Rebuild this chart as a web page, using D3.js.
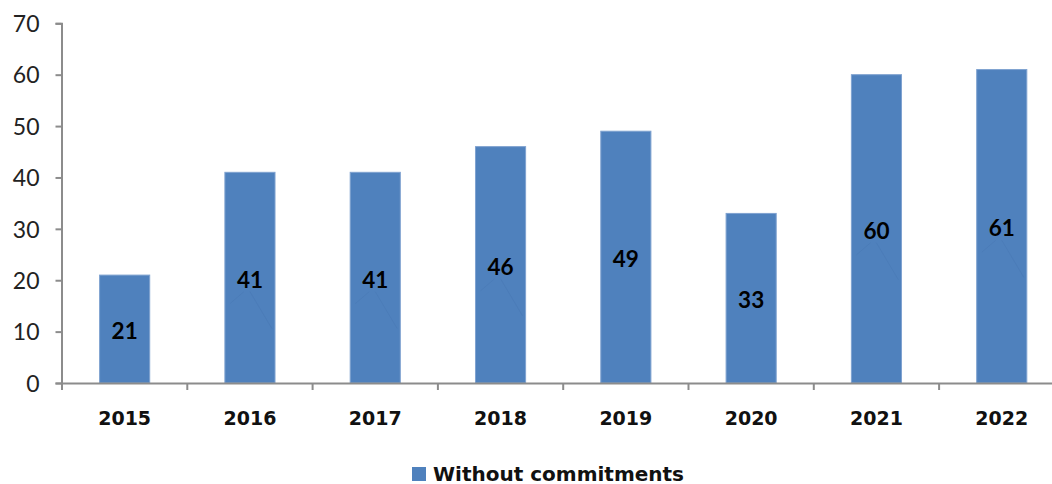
<!DOCTYPE html>
<html>
<head>
<meta charset="utf-8">
<script src="https://cdn.jsdelivr.net/npm/d3@7"></script>
<style>
  html, body { margin: 0; padding: 0; background: #fff; }
  svg { display: block; }
</style>
</head>
<body>
<svg id="chart" width="1052" height="484"></svg>
<script>
// Yearly counts, single series
const years = ["2015", "2016", "2017", "2018", "2019", "2020", "2021", "2022"];
const values = [21, 41, 41, 46, 49, 33, 60, 61];
const yTicks = [0, 10, 20, 30, 40, 50, 60, 70];
const seriesName = "Without commitments";
// labels that keep their faint leader strokes
const hasLeader = [false, true, true, true, false, false, true, true];

const svg = d3.select("#chart");
const barColor = "#4f81bd";
const axisColor = "#8c8c8c";
const boldFont = "'DejaVu Sans', sans-serif";
const plainFont = "Lato, 'Open Sans', sans-serif";

const x = d3.scaleBand().domain(years).range([62, 1064.4]).paddingInner(0.6).paddingOuter(0.3);
const y = d3.scaleLinear().domain([0, 70]).range([383, 23.3]);

// bars
svg.append("g").selectAll("rect")
  .data(values)
  .join("rect")
  .attr("x", (d, i) => x(years[i]))
  .attr("y", d => y(d))
  .attr("width", x.bandwidth())
  .attr("height", d => y(0) - y(d))
  .attr("fill", barColor)
  .attr("stroke", "#7fa2d0")
  .attr("stroke-width", 1);

// y axis
const yAxis = svg.append("g")
  .attr("transform", "translate(61.5,0)")
  .call(d3.axisLeft(y).tickValues(yTicks).tickSize(6).tickPadding(10));
yAxis.attr("font-family", plainFont);
yAxis.select(".domain").attr("stroke", axisColor).attr("stroke-width", 2);
yAxis.selectAll(".tick line").attr("stroke", axisColor).attr("stroke-width", 2);
yAxis.selectAll(".tick text")
  .attr("fill", "#222").style("font-size", "23px").attr("dx", "-6").attr("dy", "0.36em");

// x axis: ticks sit at category boundaries
const step = x.step();
const boundaries = d3.range(years.length + 1).map(i => 62 + i * step);
const xg = svg.append("g");
xg.append("line")
  .attr("x1", 61).attr("x2", 1064)
  .attr("y1", 383.5).attr("y2", 383.5)
  .attr("stroke", axisColor).attr("stroke-width", 2);
xg.selectAll("line.tk")
  .data(boundaries)
  .join("line")
  .attr("class", "tk")
  .attr("x1", d => d).attr("x2", d => d)
  .attr("y1", 383).attr("y2", 390)
  .attr("stroke", axisColor).attr("stroke-width", 2);
xg.selectAll("text")
  .data(years)
  .join("text")
  .attr("x", d => x(d) + x.bandwidth() / 2)
  .attr("y", 425)
  .attr("text-anchor", "middle")
  .attr("fill", "#111")
  .style("font-family", boldFont)
  .style("font-size", "19px")
  .style("font-weight", "bold")
  .text(d => d);

// faint leader strokes under some labels
const lead = svg.append("g")
  .attr("stroke", "#3d6ba3").attr("stroke-width", 1).attr("stroke-opacity", 0.2).attr("fill", "none");
values.forEach((d, i) => {
  if (!hasLeader[i]) return;
  const cx = x(years[i]) + x.bandwidth() / 2;
  const b = y(d / 2) + 10;
  lead.append("line").attr("x1", cx - 6).attr("y1", b + 4).attr("x2", cx - 20).attr("y2", b + 16);
  lead.append("line").attr("x1", cx).attr("y1", b + 4).attr("x2", cx + 22).attr("y2", b + 41);
});

// value labels in the middle of each bar
svg.append("g").selectAll("text")
  .data(values)
  .join("text")
  .attr("x", (d, i) => x(years[i]) + x.bandwidth() / 2)
  .attr("y", d => y(d / 2) + 10)
  .attr("text-anchor", "middle")
  .attr("fill", "#000")
  .style("font-family", plainFont)
  .style("font-size", "22.5px")
  .style("font-weight", "bold")
  .text(d => d);

// legend
const lg = svg.append("g").attr("transform", "translate(412,467)");
lg.append("rect").attr("width", 14).attr("height", 14).attr("fill", barColor);
lg.append("text")
  .attr("x", 21).attr("y", 13.5)
  .attr("fill", "#111")
  .style("font-family", boldFont)
  .style("font-size", "20px")
  .style("font-weight", "bold")
  .text(seriesName);
</script>
</body>
</html>
